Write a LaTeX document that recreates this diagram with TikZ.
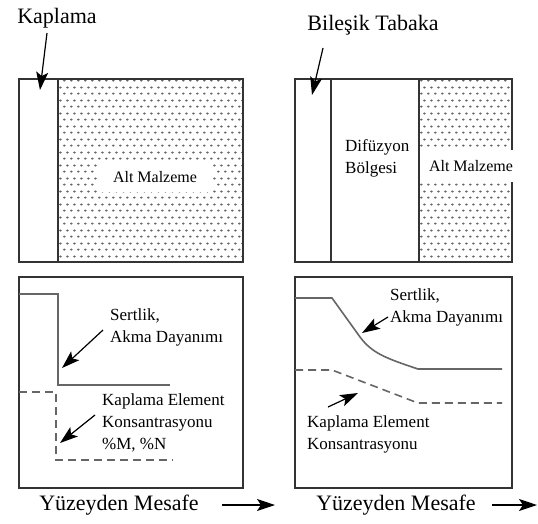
\documentclass[tikz,border=0pt]{standalone}
\usepackage{fontspec}
\setmainfont{Liberation Serif}
\usetikzlibrary{arrows.meta,patterns}

\pgfdeclarepatternformonly{substrate dots}{\pgfqpoint{0pt}{0pt}}{\pgfqpoint{7pt}{13pt}}{\pgfqpoint{7pt}{13pt}}{%
  \pgfpathellipse{\pgfqpoint{1.5pt}{1.5pt}}{\pgfqpoint{1.6pt}{0pt}}{\pgfqpoint{0pt}{1.2pt}}%
  \pgfpathellipse{\pgfqpoint{5pt}{8pt}}{\pgfqpoint{1.6pt}{0pt}}{\pgfqpoint{0pt}{1.2pt}}%
  \pgfusepath{fill}}

\begin{document}
\begin{tikzpicture}[x=1pt,y=-1pt]
  \tikzstyle{frame}=[draw=black!80,line width=1.2pt]
  \tikzstyle{curve}=[draw=black!60,line width=1.6pt]
  \tikzstyle{dcurve}=[curve,dash pattern=on 8pt off 5pt]
  \tikzstyle{big}=[font=\fontsize{22}{26}\selectfont,inner sep=0pt]
  \tikzstyle{small}=[font=\fontsize{17}{22}\selectfont,align=left,inner sep=0pt,anchor=west]
  \tikzstyle{pointer}=[-{Stealth[length=18pt,width=12pt,inset=4pt]},line width=1.2pt]
  \tikzstyle{dots}=[pattern=substrate dots,pattern color=black!60]

  \useasboundingbox[fill=white] (0,0) rectangle (538,523);

  % upper left: coating on substrate
  \fill[dots] (58,79) rectangle (243,262);
  \draw[frame] (19,79) rectangle (243,262);
  \draw[frame] (58,79) -- (58,262);
  \node[fill=white,minimum width=116pt,minimum height=30pt,inner sep=0pt,
        font=\fontsize{16}{20}\selectfont] (altL) at (155,177) {Alt Malzeme};

  % upper right: compound layer, diffusion zone, substrate
  \fill[dots] (419,79) rectangle (512,262);
  \draw[frame] (295,79) rectangle (512,262);
  \draw[frame] (331,79) -- (331,262);
  \draw[frame] (419,79) -- (419,262);
  \node[fill=white,minimum width=102pt,minimum height=32pt,inner sep=0pt,
        font=\fontsize{16}{20}\selectfont] (altR) at (471,166) {Alt Malzeme};
  \node[small] (dif) at (345,158) {Difüzyon\\Bölgesi};

  % lower frames
  \draw[frame] (19,277) rectangle (243,488);
  \draw[frame] (295,277) rectangle (512,488);

  % profiles, left
  \draw[curve] (19,294) -- (58,294) -- (58,385) -- (170,385);
  \draw[dcurve] (19,392) -- (56,392) -- (56,460) -- (173,460);

  % profiles, right
  \draw[curve] (295,298) -- (332,298) -- (360,337)
    .. controls (372,353) and (385,358) .. (418,369) -- (502,369);
  \draw[dcurve] (295,370) -- (332,370) -- (418,403) -- (502,403);

  % labels
  \node[big] (kap) at (57,18) {Kaplama};
  \node[big] (bil) at (373,25) {Bileşik Tabaka};
  \node[small] (sertL) at (110,327) {Sertlik,\\Akma Dayanımı};
  \node[small] (elemL) at (102,423) {Kaplama Element\\Konsantrasyonu\\\%M, \%N};
  \node[small] (sertR) at (390,307) {Sertlik,\\Akma Dayanımı};
  \node[small] (elemR) at (307,434) {Kaplama Element\\Konsantrasyonu};
  \node[big] (mesL) at (119,505) {Yüzeyden Mesafe};
  \node[big] (mesR) at (396,505) {Yüzeyden Mesafe};

  % arrow ends
  \coordinate (kapT) at (47,33);   \coordinate (kapH) at (40,90);
  \coordinate (bilT) at (323,48);  \coordinate (bilH) at (312,95);
  \coordinate (sLT) at (103,330);  \coordinate (sLH) at (62,368);
  \coordinate (eLT) at (95,415);   \coordinate (eLH) at (60,443);
  \coordinate (sRT) at (388,317);  \coordinate (sRH) at (362,333);
  \coordinate (eRT) at (328,407);  \coordinate (eRH) at (358,393);
  \coordinate (mLT) at (222,505);  \coordinate (mLH) at (275,505);
  \coordinate (mRT) at (492,505);  \coordinate (mRH) at (537,505);

  \draw[pointer] (kapT) -- (kapH);
  \draw[pointer] (bilT) -- (bilH);
  \draw[pointer] (sLT) -- (sLH);
  \draw[pointer] (eLT) -- (eLH);
  \draw[pointer] (sRT) -- (sRH);
  \draw[pointer] (eRT) -- (eRH);
  \draw[pointer] (mLT) -- (mLH);
  \draw[pointer] (mRT) -- (mRH);
\end{tikzpicture}
\end{document}
